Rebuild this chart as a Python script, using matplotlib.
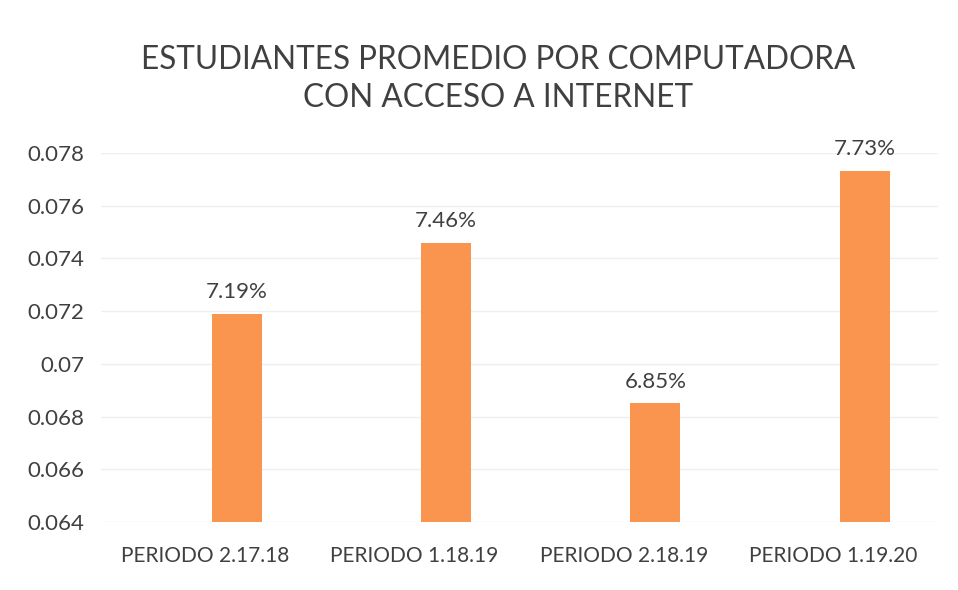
import matplotlib
matplotlib.use("Agg")
import matplotlib.pyplot as plt

categories = ["PERIODO 2.17.18", "PERIODO 1.18.19", "PERIODO 2.18.19", "PERIODO 1.19.20"]
values = [0.0719, 0.0746, 0.0685, 0.0773]
labels = ["7.19%", "7.46%", "6.85%", "7.73%"]
yticks = [0.064, 0.066, 0.068, 0.07, 0.072, 0.074, 0.076, 0.078]
ytick_labels = ["0.064", "0.066", "0.068", "0.07", "0.072", "0.074", "0.076", "0.078"]

plt.rcParams['font.family'] = ['Lato', 'DejaVu Sans']
txt = '#404040'

fig = plt.figure(figsize=(9.58, 5.90), dpi=100)
ax = fig.add_axes([0.105, 0.115, 0.874, 0.626])

x = list(range(len(categories)))
offset = 0.15
bx = [xi + offset for xi in x]
ax.bar(bx, values, width=0.24, color='#F9954E', zorder=3)
for xi, v, lab in zip(bx, values, labels):
    ax.text(xi, v + 0.00045, lab, ha='center', va='bottom', fontsize=16, color=txt)

ax.set_xlim(-0.5, 3.5)
ax.set_ylim(0.064, 0.078)
ax.set_yticks(yticks)
ax.set_yticklabels(ytick_labels, fontsize=16, color=txt)
ax.set_xticks(x)
ax.set_xticklabels(categories, fontsize=15, color=txt)
ax.tick_params(axis='x', length=0, pad=17)
ax.tick_params(axis='y', length=0, pad=12)
ax.grid(axis='y', color='#EFEFEF', linewidth=1, zorder=0)
for s in ax.spines.values():
    s.set_visible(False)

fig.text(0.52, 0.866, "ESTUDIANTES PROMEDIO POR COMPUTADORA\nCON ACCESO A INTERNET",
         ha='center', va='center', fontsize=22.7, color=txt, linespacing=1.3)

fig.savefig("out.png", dpi=100, facecolor='white')
